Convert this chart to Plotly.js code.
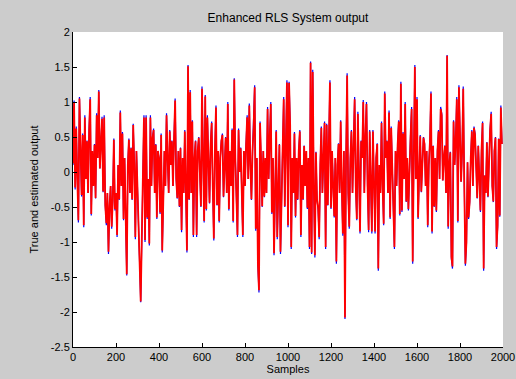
<!DOCTYPE html>
<html>
<head>
<meta charset="utf-8">
<script src="https://cdn.plot.ly/plotly-3.0.1.min.js"></script>
<style>html,body{margin:0;padding:0;background:#cccccc;}#chart{width:516px;height:379px;}</style>
</head>
<body>
<div id="chart"></div>
<script>
// Sample spacing of the stored values (one value every 5 samples)
const sampleStep = 5;

const trueOutput = [
0.1,1.02,-0.25,0.65,-0.1,-0.72,1.07,0.2,-0.35,0.55,
-0.79,0.81,-0.1,0.45,-0.3,0.62,1.07,-0.62,0.3,-0.2,
0.4,-0.38,0.84,0.2,1.17,0.05,0.5,0.79,-0.29,0.81,
-0.48,-0.76,-0.3,-1.17,-0.5,-0.2,-0.81,-0.4,0.48,-0.55,
-0.3,-0.93,0.1,-0.4,0.88,-0.2,0.57,-0.69,0.2,-0.84,
-1.48,0.1,0.48,-0.3,0.35,-0.4,0.69,0.1,-0.96,0.3,
-0.2,-0.98,-1.5,-1.86,-0.97,0.35,0.81,-1.0,0.81,-0.67,
-0.1,-1.05,0.81,-0.2,0.5,0.62,-0.3,0.4,-0.67,0.3,
0.2,-0.6,0.55,-1.15,-0.4,0.3,-0.2,0.84,0.2,-0.3,
0.6,0.1,0.45,-0.2,0.5,1.05,-0.1,-0.38,0.3,-0.5,
0.35,-0.86,0.2,-0.3,0.6,-0.2,-1.15,1.53,-0.4,1.17,
-0.3,0.74,-0.93,0.2,0.45,-0.93,0.3,0.5,-0.1,-0.5,
1.22,-0.2,-0.72,1.1,-0.55,0.81,0.1,-0.45,0.4,0.72,
-0.2,-0.98,0.3,0.95,-0.48,0.3,-0.72,0.2,0.45,0.55,
-0.36,0.1,0.5,-0.3,1.0,-0.55,0.3,-0.2,0.62,-0.72,
1.34,0.2,-0.4,-0.93,0.62,0.0,0.35,-0.3,-0.93,0.3,
-0.2,0.4,0.81,-0.1,0.98,0.1,-0.4,0.3,0.65,1.24,
-0.84,0.2,-1.34,-1.72,0.72,0.17,-0.5,0.3,-0.36,0.2,
-0.3,0.93,-0.1,0.5,1.0,-0.6,0.2,-1.19,-0.3,0.6,
-0.96,0.0,0.4,-1.17,-0.3,0.5,1.07,-0.5,0.2,1.31,
-0.79,1.29,0.69,-1.1,0.2,-0.3,0.57,-0.65,0.2,-0.4,
0.3,0.6,-0.93,0.1,-0.4,0.38,-0.2,0.3,-0.53,0.2,
-1.1,1.58,-1.17,1.46,-0.2,-1.22,0.29,-0.4,-0.53,-0.96,
0.1,0.65,-0.3,0.3,0.72,-1.1,0.69,-0.48,0.2,1.31,
-0.53,0.3,-0.2,-0.65,0.2,-1.31,0.1,0.41,-0.3,0.74,
-0.2,-0.91,0.3,-2.1,0.2,1.41,-0.3,-0.81,0.2,0.6,
-0.3,0.3,1.07,-0.2,-0.69,0.86,-0.1,-0.88,0.45,0.2,
1.03,-0.3,0.5,1.0,-0.2,-0.86,0.6,-0.2,-0.88,0.6,
-0.1,-0.88,0.2,0.41,-1.41,0.1,-0.3,0.72,-0.2,-0.76,
1.15,0.2,0.45,-0.3,0.88,-0.67,0.65,0.1,-0.38,-1.1,
0.3,-0.2,0.4,0.74,-0.62,1.29,-0.57,0.57,-0.1,1.0,
-0.43,0.2,-0.55,0.1,0.53,0.93,-1.31,0.2,1.53,-0.1,
1.07,-0.67,0.2,0.53,-0.29,0.3,0.5,0.41,-0.2,0.3,
-0.79,0.1,0.43,1.15,-0.88,0.38,-0.5,0.2,-0.57,0.3,
0.6,-0.1,0.93,0.84,-0.12,0.2,0.38,-0.3,1.67,-0.81,
0.1,0.29,-1.24,-1.38,0.74,0.1,0.45,1.07,-0.72,1.24,
0.48,-0.14,0.3,1.22,-0.2,-1.34,-1.03,0.14,-0.67,-0.43,
0.2,0.6,-0.2,0.65,0.55,-0.1,-0.38,0.38,-0.2,-0.57,
0.3,0.72,-1.41,-0.05,-0.3,0.43,-0.36,0.2,0.62,0.86,
-0.2,-0.43,0.3,0.5,-1.1,-0.79,0.48,-0.64,0.95,0.4
];

const estimatedOutput = [
0.12,0.99,-0.22,0.62,-0.08,-0.69,1.05,0.2,-0.33,0.53,
-0.76,0.78,-0.1,0.44,-0.3,0.6,1.04,-0.6,0.3,-0.2,
0.39,-0.37,0.81,0.2,1.15,0.05,0.49,0.76,-0.28,0.78,
-0.47,-0.73,-0.3,-1.14,-0.49,-0.2,-0.78,-0.4,0.46,-0.53,
-0.3,-0.9,0.1,-0.39,0.85,-0.2,0.55,-0.67,0.2,-0.81,
-1.46,0.1,0.46,-0.3,0.34,-0.39,0.67,0.1,-0.93,0.3,
-0.2,-0.95,-1.48,-1.85,-0.94,0.34,0.78,-0.97,0.78,-0.65,
-0.1,-1.02,0.78,-0.2,0.49,0.6,-0.3,0.39,-0.65,0.3,
0.2,-0.58,0.53,-1.12,-0.39,0.3,-0.2,0.81,0.2,-0.3,
0.58,0.1,0.44,-0.2,0.49,1.02,-0.1,-0.37,0.3,-0.49,
0.34,-0.83,0.2,-0.3,0.58,-0.2,-1.12,1.51,-0.39,1.14,
-0.3,0.72,-0.9,0.2,0.44,-0.9,0.3,0.49,-0.1,-0.49,
1.19,-0.2,-0.7,1.08,-0.53,0.78,0.1,-0.44,0.39,0.7,
-0.2,-0.95,0.3,0.92,-0.47,0.3,-0.7,0.2,0.44,0.53,
-0.35,0.1,0.49,-0.3,0.97,-0.53,0.3,-0.2,0.6,-0.7,
1.32,0.2,-0.39,-0.9,0.6,0.0,0.34,-0.3,-0.9,0.3,
-0.2,0.39,0.78,-0.1,0.95,0.1,-0.39,0.3,0.63,1.21,
-0.81,0.2,-1.31,-1.69,0.7,0.17,-0.49,0.3,-0.35,0.2,
-0.3,0.9,-0.1,0.49,0.97,-0.58,0.2,-1.16,-0.3,0.58,
-0.93,0.0,0.39,-1.14,-0.3,0.49,1.04,-0.49,0.2,1.28,
-0.76,1.27,0.67,-1.07,0.2,-0.3,0.55,-0.63,0.2,-0.39,
0.3,0.58,-0.9,0.1,-0.39,0.37,-0.2,0.3,-0.51,0.2,
-1.07,1.56,-1.15,1.43,-0.2,-1.19,0.28,-0.39,-0.51,-0.93,
0.1,0.63,-0.3,0.3,0.7,-1.07,0.67,-0.47,0.2,1.28,
-0.51,0.3,-0.2,-0.63,0.2,-1.28,0.1,0.4,-0.3,0.72,
-0.2,-0.88,0.3,-2.08,0.2,1.38,-0.3,-0.78,0.2,0.58,
-0.3,0.3,1.04,-0.2,-0.67,0.83,-0.1,-0.85,0.44,0.2,
1.0,-0.3,0.49,0.97,-0.2,-0.83,0.58,-0.2,-0.85,0.58,
-0.1,-0.85,0.2,0.4,-1.38,0.1,-0.3,0.7,-0.2,-0.74,
1.12,0.2,0.44,-0.3,0.85,-0.65,0.63,0.1,-0.37,-1.07,
0.3,-0.2,0.39,0.72,-0.6,1.26,-0.55,0.55,-0.1,0.97,
-0.42,0.2,-0.53,0.1,0.51,0.9,-1.28,0.2,1.5,-0.1,
1.04,-0.65,0.2,0.51,-0.28,0.3,0.49,0.4,-0.2,0.3,
-0.76,0.1,0.42,1.12,-0.85,0.37,-0.49,0.2,-0.55,0.3,
0.58,-0.1,0.9,0.81,-0.12,0.2,0.37,-0.3,1.66,-0.78,
0.1,0.28,-1.21,-1.35,0.72,0.1,0.44,1.04,-0.7,1.21,
0.47,-0.14,0.3,1.19,-0.2,-1.31,-1.0,0.14,-0.65,-0.42,
0.2,0.58,-0.2,0.63,0.53,-0.1,-0.37,0.37,-0.2,-0.55,
0.3,0.7,-1.38,-0.05,-0.3,0.42,-0.35,0.2,0.6,0.83,
-0.2,-0.42,0.3,0.49,-1.07,-0.76,0.47,-0.62,0.92,0.4
];

const xTickVals = [0,200,400,600,800,1000,1200,1400,1600,1800,2000];
const xTickText = ['0','200','400','600','800','1000','1200','1400','1600','1800','2000'];
const yTickVals = [2,1.5,1,0.5,0,-0.5,-1,-1.5,-2,-2.5];
const yTickText = ['2','1.5','1','0.5','0','-0.5','-1','-1.5','-2','-2.5'];

const font = {family: 'Arial, "Liberation Sans", sans-serif', size: 11, color: '#000000'};

const traces = [
  {type: 'scatter', mode: 'lines', x0: 0, dx: sampleStep, y: trueOutput,
   line: {color: '#0000ff', width: 1.2}, hoverinfo: 'skip', name: 'True'},
  {type: 'scatter', mode: 'lines', x0: 0, dx: sampleStep, y: estimatedOutput,
   line: {color: '#ff0000', width: 1.8}, hoverinfo: 'skip', name: 'Estimated'}
];

const layout = {
  width: 516, height: 379,
  paper_bgcolor: '#cccccc', plot_bgcolor: '#ffffff',
  margin: {l: 73, r: 13, t: 32, b: 32, pad: 0},
  showlegend: false,
  font: font,
  title: {text: 'Enhanced RLS System output', font: {family: font.family, size: 12, color: '#000000'},
          x: 0.5, xref: 'paper', xanchor: 'center', y: 1 - 18/379, yref: 'container', yanchor: 'middle'},
  xaxis: {range: [0, 2000], tickvals: xTickVals, ticktext: xTickText,
          ticks: 'inside', ticklen: 4, tickcolor: '#000000', tickwidth: 1,
          showline: true, linecolor: '#000000', linewidth: 1, mirror: false,
          showgrid: false, zeroline: false, tickfont: font,
          title: {text: 'Samples', font: font, standoff: 3}},
  yaxis: {range: [-2.5, 2], tickvals: yTickVals, ticktext: yTickText,
          ticks: 'inside', ticklen: 4, tickcolor: '#000000', tickwidth: 1,
          showline: true, linecolor: '#000000', linewidth: 1, mirror: false,
          showgrid: false, zeroline: false, tickfont: font,
          title: {text: 'True and estimated output', font: font, standoff: 9}}
};

Plotly.newPlot('chart', traces, layout, {staticPlot: true, displayModeBar: false});
</script>
</body>
</html>
